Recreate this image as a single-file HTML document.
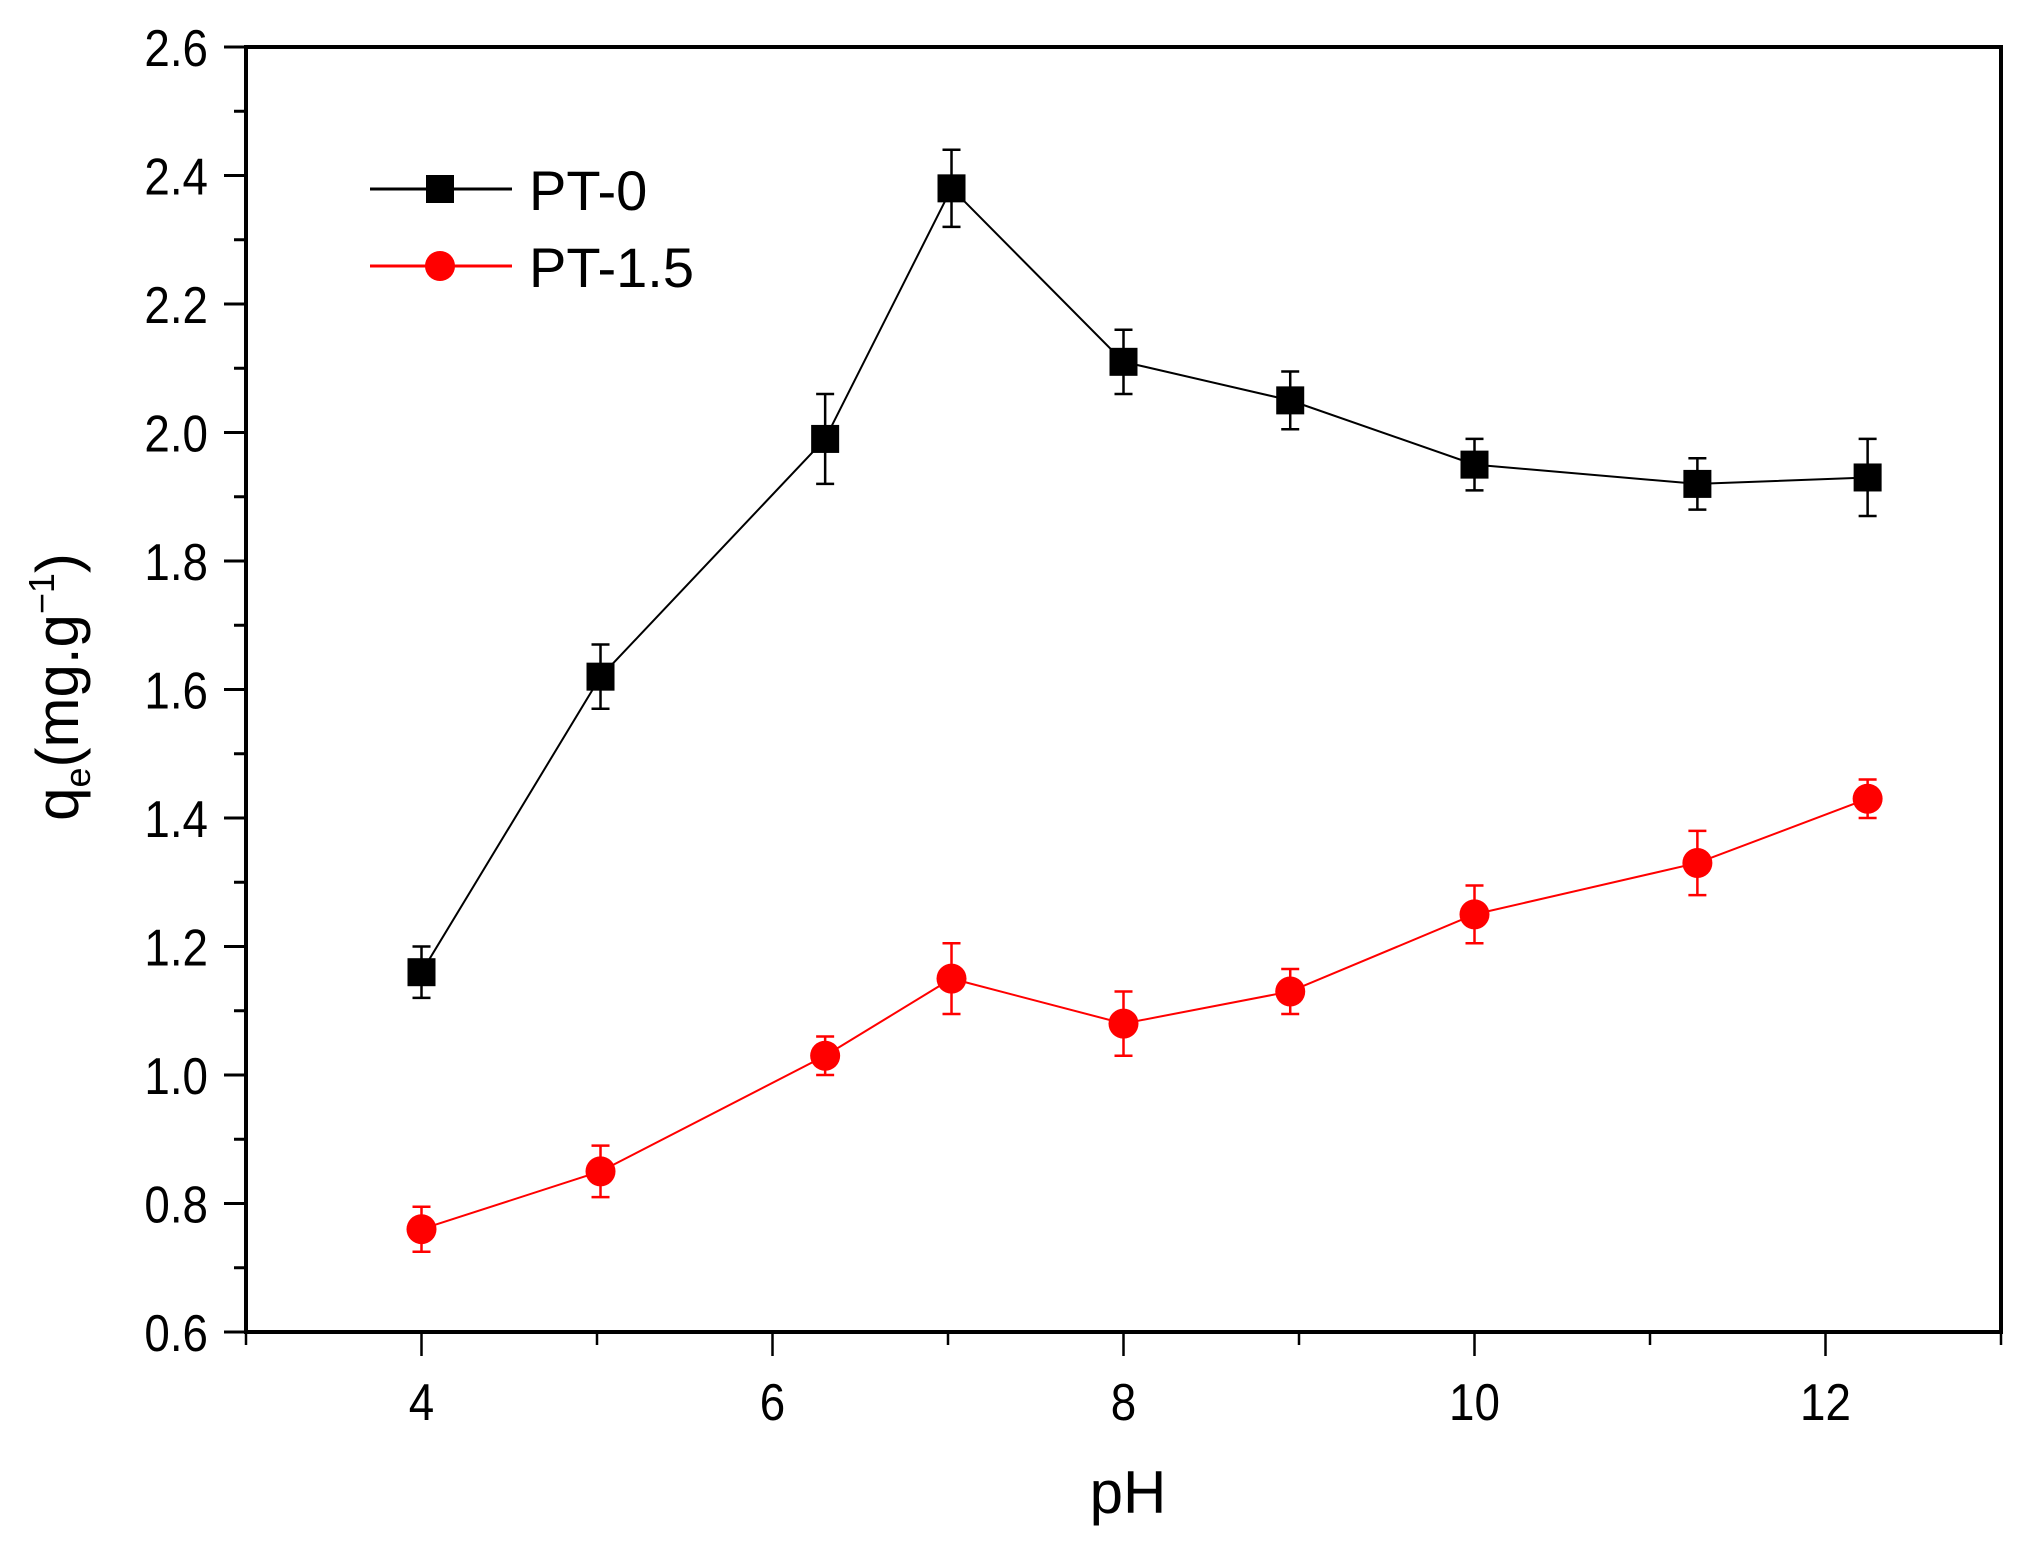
<!DOCTYPE html>
<html><head><meta charset="utf-8"><style>
html,body{margin:0;padding:0;background:#fff;}
svg{display:block;font-family:"Liberation Sans",Arial,sans-serif;}
</style></head><body>
<svg id="chart" width="2033" height="1553" viewBox="0 0 2033 1553">
<g id="axes"></g>
<g id="series"></g>
<g id="legend"></g>
</svg>
<script>
const xValues = [4, 5.02, 6.3, 7.02, 8.0, 8.95, 10.0, 11.27, 12.24];
const pt0Values = [1.16, 1.62, 1.99, 2.38, 2.11, 2.05, 1.95, 1.92, 1.93];
const pt0Errors = [0.04, 0.05, 0.07, 0.06, 0.05, 0.045, 0.04, 0.04, 0.06];
const pt15Values = [0.76, 0.85, 1.03, 1.15, 1.08, 1.13, 1.25, 1.33, 1.43];
const pt15Errors = [0.035, 0.04, 0.03, 0.055, 0.05, 0.035, 0.045, 0.05, 0.03];
const xTicks = [4, 6, 8, 10, 12];
const yTicks = [0.6, 0.8, 1.0, 1.2, 1.4, 1.6, 1.8, 2.0, 2.2, 2.4, 2.6];

const L=246,R=2001,T=47,B=1332,X0=3,X1=13,Y0=0.6,Y1=2.6;
const sx=v=>L+(v-X0)/(X1-X0)*(R-L);
const sy=v=>B-(v-Y0)/(Y1-Y0)*(B-T);
const NS="http://www.w3.org/2000/svg";
function mk(tag,attrs,parent){const e=document.createElementNS(NS,tag);for(const k in attrs)e.setAttribute(k,attrs[k]);parent.appendChild(e);return e;}
const axes=document.getElementById('axes');
const frame=mk('rect',{x:L,y:T,width:R-L,height:B-T,fill:'none',stroke:'#000','stroke-width':4},axes);


for(let i=0;i<yTicks.length;i++){
  const v=yTicks[i],y=sy(v);
  const t=mk('line',{x1:L-22,x2:L,y1:y,y2:y,stroke:'#000','stroke-width':3},axes);
  
  
  if(i<yTicks.length-1){const ym=sy(v+0.1);
    const m=mk('line',{x1:L-12,x2:L,y1:ym,y2:ym,stroke:'#000','stroke-width':3},axes);
    
    }
  const lb=mk('text',{x:0,y:0,'text-anchor':'end','font-size':52,transform:`translate(${L-38},${y+19}) scale(0.88,1)`},axes);
  lb.textContent=v.toFixed(1);
  
  
}
for(let v=X0;v<=X1;v++){
  const x=sx(v),major=xTicks.includes(v);
  const t=mk('line',{x1:x,x2:x,y1:B,y2:B+(major?24:13),stroke:'#000','stroke-width':2.5},axes);
  
  
}
for(const v of xTicks){
  const lb=mk('text',{x:0,y:0,'text-anchor':'middle','font-size':52,transform:`translate(${sx(v)},${1420}) scale(0.88,1)`},axes);
  lb.textContent=v;
  
  
}
const xt=mk('text',{x:1128,y:1513,'text-anchor':'middle','font-size':60},axes);
xt.textContent='pH';


const yt=mk('text',{transform:'translate(78,687) rotate(-90)','text-anchor':'middle','font-size':60},axes);
yt.innerHTML='q<tspan font-size="36" dy="12">e</tspan><tspan dy="-12">(mg.g</tspan><tspan font-size="36" dy="-24">−1</tspan><tspan dy="24">)</tspan>';



const ser=document.getElementById('series');
function drawSeries(vals,errs,color,shape,name){
  const g=mk('g',{},ser);
  
  
  const pl=mk('polyline',{points:xValues.map((x,i)=>sx(x)+','+sy(vals[i])).join(' '),fill:'none',stroke:color,'stroke-width':2},g);
  
  
  for(let i=0;i<xValues.length;i++){
    const x=sx(xValues[i]),y1=sy(vals[i]+errs[i]),y2=sy(vals[i]-errs[i]);
    const eb=mk('path',{d:`M${x},${y1}V${y2}M${x-9},${y1}H${x+9}M${x-9},${y2}H${x+9}`,stroke:color,'stroke-width':2.5,fill:'none'},g);
    
    
    const y=sy(vals[i]);
    let m;
    if(shape==='square') m=mk('rect',{x:x-14,y:y-14,width:28,height:28,fill:color},g);
    else m=mk('circle',{cx:x,cy:y,r:15,fill:color},g);
    
    
  }
}
drawSeries(pt0Values,pt0Errors,'#000','square','pt-0');
drawSeries(pt15Values,pt15Errors,'#ff0000','circle','pt-1-5');

const lg=document.getElementById('legend');
function legendEntry(y,color,shape,label,name){
  const g=mk('g',{},lg);
  
  
  mk('line',{x1:370,x2:512,y1:y,y2:y,stroke:color,'stroke-width':3},g);
  if(shape==='square') mk('rect',{x:426,y:y-14,width:28,height:28,fill:color},g);
  else mk('circle',{cx:440,cy:y,r:15,fill:color},g);
  const t=mk('text',{x:529,y:y+21,'font-size':56},g);
  t.textContent=label;
}
legendEntry(189,'#000','square','PT-0','legend-entry-pt-0');
legendEntry(266,'#ff0000','circle','PT-1.5','legend-entry-pt-1-5');
</script>
</body></html>
